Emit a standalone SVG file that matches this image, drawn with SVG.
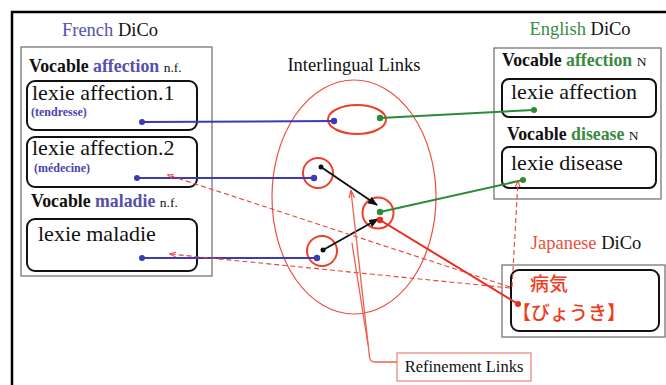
<svg xmlns="http://www.w3.org/2000/svg" width="666" height="385" viewBox="0 0 666 385">
<style>
text{font-family:'Liberation Serif','Times New Roman',Times,serif;fill:#111}
.title{font-size:18.5px}
.voc{font-size:17.8px;font-weight:bold}
.pos{font-size:13.5px;font-weight:normal}
.lex{font-size:22px}
.gloss{font-size:12px;font-weight:bold;fill:#4a44b0}
.fr{fill:#5650aa}
.en{fill:#3a8a42}
.jp{fill:#e8503e}
.dico{fill:none;stroke:#777;stroke-width:1.3}
.lexbox{fill:none;stroke:#111;stroke-width:2}
.blue{stroke:#3b3bb4;stroke-width:2;fill:none}
.green{stroke:#2e8a3a;stroke-width:2;fill:none}
.black{stroke:#111;stroke-width:2;fill:none}
.red{stroke:#ee2a1e;stroke-width:2;fill:none}
.dash{stroke:#e8443a;stroke-width:1.1;stroke-dasharray:5,3;fill:none}
.ring{fill:none;stroke:#ee4028;stroke-width:2}
.ref{stroke:#f06050;stroke-width:1.3;fill:none}
text.jpt{font-family:'Noto Sans CJK JP','Noto Sans CJK SC',sans-serif;font-size:19px;font-weight:500;fill:#f03c1e}
</style>
<defs>
<marker id="ab" viewBox="0 0 10 10" refX="9" refY="5" markerWidth="5" markerHeight="5" orient="auto-start-reverse"><path d="M0,1 L10,5 L0,9 z" fill="#111"/></marker>
<marker id="ar" viewBox="0 0 10 10" refX="9" refY="5" markerWidth="6" markerHeight="6" orient="auto"><path d="M0,1.5 L10,5 L0,8.5" fill="none" stroke="#e8443a" stroke-width="1.5"/></marker>
</defs>
<rect width="666" height="385" fill="#fff"/>
<g id="frame"><path d="M12,385 V12 H666" fill="none" stroke="#000" stroke-width="2.5"/></g>

<g id="french-dico">
<rect class="dico" x="21" y="47" width="191" height="229"/>
<text class="title" x="110" y="36" text-anchor="middle"><tspan class="fr">French</tspan> DiCo</text>
<text class="voc" x="29" y="72">Vocable <tspan class="fr">affection</tspan> <tspan class="pos">n.f.</tspan></text>
<text class="voc" x="31" y="207">Vocable <tspan class="fr">maladie</tspan> <tspan class="pos">n.f.</tspan></text>
</g>
<g id="fr-affection1">
<rect class="lexbox" x="27" y="81" width="170" height="49" rx="8"/>
<text class="lex" x="32" y="100">lexie affection.1</text>
<text class="gloss" x="31" y="116">(tendresse)</text>
</g>
<g id="fr-affection2">
<rect class="lexbox" x="27" y="137" width="170" height="50" rx="8"/>
<text class="lex" x="32" y="155">lexie affection.2</text>
<text class="gloss" x="34" y="172">(médecine)</text>
</g>
<g id="fr-maladie">
<rect class="lexbox" x="27" y="219" width="170" height="52" rx="8"/>
<text class="lex" x="38" y="241">lexie maladie</text>
</g>

<g id="english-dico">
<rect class="dico" x="494" y="48" width="167" height="151"/>
<text class="title" x="580" y="35" text-anchor="middle"><tspan class="en">English</tspan> DiCo</text>
<text class="voc" x="502" y="66">Vocable <tspan class="en">affection</tspan> <tspan class="pos">N</tspan></text>
<text class="voc" x="507" y="140">Vocable <tspan class="en">disease</tspan> <tspan class="pos">N</tspan></text>
</g>
<g id="en-affection">
<rect class="lexbox" x="502" y="79" width="154" height="38" rx="7"/>
<text class="lex" x="511" y="99">lexie affection</text>
</g>
<g id="en-disease">
<rect class="lexbox" x="502" y="147" width="154" height="41" rx="7"/>
<text class="lex" x="511" y="170">lexie disease</text>
</g>

<g id="japanese-dico">
<rect class="dico" x="502" y="265" width="163" height="72"/>
<text class="title" x="586" y="249" text-anchor="middle"><tspan class="jp">Japanese</tspan> DiCo</text>
</g>
<g id="jp-byouki">
<rect class="lexbox" x="511" y="270" width="148" height="61" rx="8"/>
<text class="jpt" x="530" y="291">病気</text>
<text class="jpt" x="512" y="320">【びょうき】</text>
</g>

<g id="interlingual-links">
<text class="title" x="354" y="71" text-anchor="middle">Interlingual Links</text>
<ellipse cx="354" cy="197" rx="82" ry="117" fill="none" stroke="#ee5040" stroke-width="1.2"/>
<ellipse class="ring" cx="357" cy="119.5" rx="29" ry="14.5"/>
<circle class="ring" cx="318" cy="173" r="15"/>
<circle class="ring" cx="378" cy="213" r="15.5"/>
<circle class="ring" cx="322" cy="251" r="15"/>
</g>

<g id="refinement-links">
<rect x="397" y="353" width="134" height="28" fill="#fff" stroke="#f08a80" stroke-width="1.3"/>
<text x="464" y="372" text-anchor="middle" style="font-size:16.5px">Refinement Links</text>
</g>

<g id="connectors">
<line class="blue" x1="142" y1="122" x2="334" y2="121"/>
<line class="blue" x1="137" y1="178" x2="314" y2="178"/>
<line class="blue" x1="142" y1="258" x2="317" y2="258"/>
<line class="green" x1="534" y1="110" x2="380" y2="118"/>
<line class="green" x1="523" y1="180" x2="380" y2="212"/>
<line class="red" x1="380" y1="220" x2="518" y2="304"/>
<line class="black" x1="321" y1="167" x2="377" y2="205" marker-end="url(#ab)"/>
<line class="black" x1="323" y1="250" x2="378" y2="219" marker-end="url(#ab)"/>
<line class="dash" x1="510" y1="287" x2="168" y2="175" marker-end="url(#ar)"/>
<line class="dash" x1="510" y1="288" x2="170" y2="254" marker-end="url(#ar)"/>
<line class="dash" x1="512" y1="287" x2="518" y2="181" marker-end="url(#ar)"/>
<path class="ref" d="M397,362 H375 Q370,362 369.5,357 L351,191" marker-end="url(#ar)"/>
<path class="ref" d="M368,345 L352,243"/>
<g fill="#3b3bb4"><circle cx="142" cy="122" r="3"/><circle cx="137" cy="178" r="3"/><circle cx="142" cy="258" r="3"/><circle cx="334" cy="121" r="3.2"/><circle cx="314" cy="178" r="3.2"/><circle cx="317" cy="258" r="3.2"/></g>
<g fill="#2e8a3a"><circle cx="534" cy="110" r="3"/><circle cx="523" cy="180" r="3"/><circle cx="380" cy="118" r="3.2"/><circle cx="380" cy="212" r="3.2"/></g>
<g fill="#ee2a1e"><circle cx="380" cy="220" r="3.2"/><circle cx="518" cy="304" r="3"/></g>
<g fill="#111"><circle cx="321" cy="167" r="2.5"/><circle cx="323" cy="250" r="2.5"/></g>
</g>
</svg>
